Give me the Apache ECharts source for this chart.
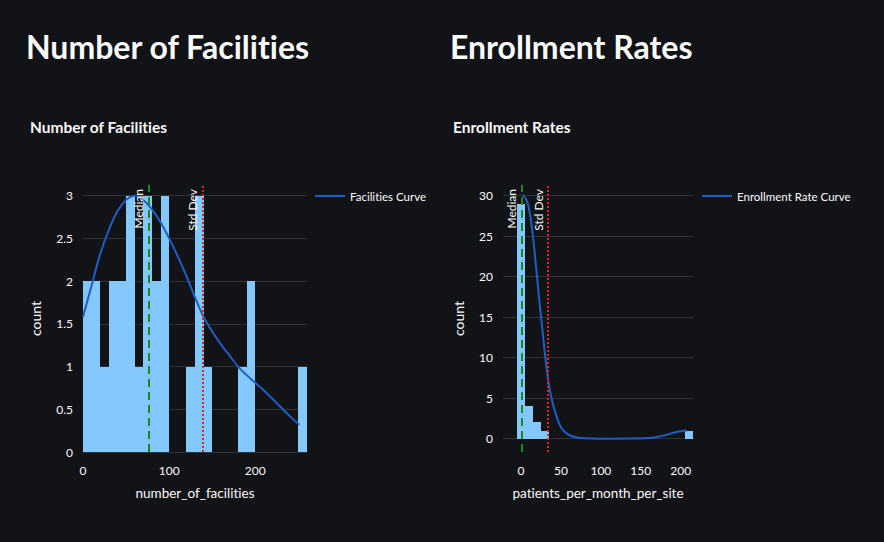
<!DOCTYPE html>
<html>
<head>
<meta charset="utf-8">
<script src="https://cdn.jsdelivr.net/npm/echarts@6/dist/echarts.min.js"></script>
<style>
html,body{margin:0;padding:0;background:#121317;}
#chart{width:884px;height:542px;}
#chart, #chart text{font-variant-ligatures:none;font-feature-settings:"liga" 0, "clig" 0;}
</style>
</head>
<body>
<div id="chart"></div>
<script>
// ---------- Data ----------
// Number of facilities histogram (bin starts, width 10)
const facBinStarts = [0,10,20,30,40,50,60,70,80,90,100,110,120,130,140,150,160,170,180,190,200,210,220,230,240,250];
const facCounts    = [2, 2, 1, 2, 2, 3, 1, 3, 2, 3, 0,  0,  1,  3,  1,  0,  0,  0,  1,  2,  0,  0,  0,  0,  0,  1];
const facBinWidth = 10;
// Facilities curve
const facCurveX = [0,10,20,30,40,50,60,70,80,90,100,110,120,130,140,150,160,170,180,190,200,210,220,230,240,251];
const facCurveY = [1.58,1.95,2.32,2.60,2.82,2.95,3.0,2.95,2.84,2.69,2.50,2.29,2.06,1.81,1.58,1.41,1.26,1.13,1.0,0.90,0.81,0.72,0.62,0.52,0.42,0.32];
const facMedian = 76.5;
const facStd = 139;
const facYTicks = [0,0.5,1,1.5,2,2.5,3];
const facXTicks = [0,100,200];

// Enrollment histogram (bin centres, width 10)
const enrBinCenters = [0,10,20,30,40,50,60,70,80,90,100,110,120,130,140,150,160,170,180,190,200,210];
const enrCounts     = [29,4, 2, 1, 0, 0, 0, 0, 0, 0, 0,  0,  0,  0,  0,  0,  0,  0,  0,  0,  0,  1];
const enrBinWidth = 10;
// Enrollment curve
const enrCurveX = [2.5,7.5,11,15,19,23,27,31,35,40,45,50,55,60,70,80,100,120,140,160,170,180,190,200,207.5];
const enrCurveY = [30.1,29.3,27.8,24.9,21,17,13.2,9.5,6.6,4.2,2.6,1.4,0.8,0.45,0.15,0.05,0,0,0.02,0.08,0.2,0.4,0.7,0.9,1.0];
const enrMedian = 0.5;
const enrStd = 34;
const enrYTicks = [0,5,10,15,20,25,30];
const enrXTicks = [0,50,100,150,200];

// ---------- Styles ----------
const FONT = 'Lato, "Noto Sans", sans-serif';
const TXT = '#fafafa';
const GRID = '#30323a';
const BAR = '#83c9ff';
const CURVE = '#1f5cc6';

function histRender(width, centered) {
  return function (params, api) {
    const x = api.value(0);
    const y = api.value(1);
    const x0 = centered ? x - width / 2 : x;
    const x1 = x0 + width;
    const p0 = api.coord([x0, y]);
    const p1 = api.coord([x1, 0]);
    const l = Math.round(p0[0]), r = Math.round(p1[0]);
    const t = Math.round(p0[1]), b = Math.round(p1[1]);
    return {
      type: 'rect',
      shape: { x: l, y: t, width: r - l, height: b - t },
      style: { fill: BAR }
    };
  };
}

function vLines(median, std) {
  const lbl = (txt) => ({
    show: true, formatter: txt, position: 'insideEndTop', distance: 4,
    color: TXT, fontSize: 12, fontFamily: FONT
  });
  return {
    silent: true, symbol: ['none', 'none'],
    data: [
      { xAxis: median, lineStyle: { color: '#1f851f', width: 2, type: [8, 5] }, label: lbl('Median') },
      { xAxis: std, lineStyle: { color: '#ff1a1a', width: 2, type: [2, 2] }, label: lbl('Std Dev') }
    ]
  };
}

function valAxisX(gridIndex, min, max, ticks, name) {
  return {
    type: 'value', gridIndex, min, max, name, nameLocation: 'middle', nameGap: 34,
    nameTextStyle: { color: TXT, fontSize: 13.5, fontFamily: FONT },
    axisLine: { show: false }, axisTick: { show: false, customValues: ticks },
    axisLabel: { color: TXT, fontSize: 12, fontFamily: FONT, margin: 12, customValues: ticks },
    splitLine: { show: false }
  };
}
function valAxisY(gridIndex, min, max, ticks, gap) {
  return {
    type: 'value', gridIndex, min, max, name: 'count', nameLocation: 'middle', nameGap: gap,
    nameTextStyle: { color: TXT, fontSize: 14, fontFamily: FONT },
    axisLine: { show: false }, axisTick: { show: false, customValues: ticks },
    axisLabel: { color: TXT, fontSize: 12, fontFamily: FONT, margin: 10, customValues: ticks },
    splitLine: { show: true, lineStyle: { color: GRID, width: 1 } }
  };
}

const chart = echarts.init(document.getElementById('chart'), null, { renderer: 'svg' });
chart.setOption({
  backgroundColor: '#121317',
  animation: false,
  title: [
    { text: 'Number of Facilities', left: 21, top: 25, textStyle: { color: TXT, fontSize: 32, fontWeight: 'bold', fontFamily: FONT } },
    { text: 'Enrollment Rates', left: 445, top: 25, textStyle: { color: TXT, fontSize: 32, fontWeight: 'bold', fontFamily: FONT } },
    { text: 'Number of Facilities', left: 25, top: 114, textStyle: { color: TXT, fontSize: 15.5, fontWeight: 'bold', fontFamily: FONT } },
    { text: 'Enrollment Rates', left: 448, top: 114, textStyle: { color: TXT, fontSize: 15.5, fontWeight: 'bold', fontFamily: FONT } }
  ],
  legend: [
    { data: ['Facilities Curve'], left: 315, top: 190, padding: 0, icon: 'rect', itemWidth: 30, itemHeight: 2, itemGap: 6,
      textStyle: { color: TXT, fontSize: 11.5, fontFamily: FONT } },
    { data: ['Enrollment Rate Curve'], left: 702, top: 190, padding: 0, icon: 'rect', itemWidth: 30, itemHeight: 2, itemGap: 6,
      textStyle: { color: TXT, fontSize: 11.5, fontFamily: FONT } }
  ],
  grid: [
    { left: 83, top: 185, width: 224, height: 267 },
    { left: 503, top: 185, width: 190, height: 267 }
  ],
  xAxis: [
    valAxisX(0, 0, 260, facXTicks, 'number_of_facilities'),
    valAxisX(1, -22.6, 215.4, enrXTicks, 'patients_per_month_per_site')
  ],
  yAxis: [
    valAxisY(0, 0, 3.125, facYTicks, 41),
    valAxisY(1, -1.65, 31.3, enrYTicks, 38)
  ],
  series: [
    {
      type: 'custom', name: 'facHist', xAxisIndex: 0, yAxisIndex: 0, clip: true,
      renderItem: histRender(facBinWidth, false),
      data: facBinStarts.map((s, i) => [s, facCounts[i]]),
      markLine: vLines(facMedian, facStd), z: 1
    },
    {
      type: 'line', name: 'Facilities Curve', xAxisIndex: 0, yAxisIndex: 0,
      data: facCurveX.map((x, i) => [x, facCurveY[i]]),
      smooth: 0.3, showSymbol: false, lineStyle: { color: CURVE, width: 2 }, itemStyle: { color: CURVE }, z: 2
    },
    {
      type: 'custom', name: 'enrHist', xAxisIndex: 1, yAxisIndex: 1, clip: true,
      renderItem: histRender(enrBinWidth, true),
      data: enrBinCenters.map((c, i) => [c, enrCounts[i]]),
      markLine: vLines(enrMedian, enrStd), z: 1
    },
    {
      type: 'line', name: 'Enrollment Rate Curve', xAxisIndex: 1, yAxisIndex: 1,
      data: enrCurveX.map((x, i) => [x, enrCurveY[i]]),
      smooth: 0.3, showSymbol: false, lineStyle: { color: CURVE, width: 2 }, itemStyle: { color: CURVE }, z: 2
    }
  ]
});
</script>
</body>
</html>
